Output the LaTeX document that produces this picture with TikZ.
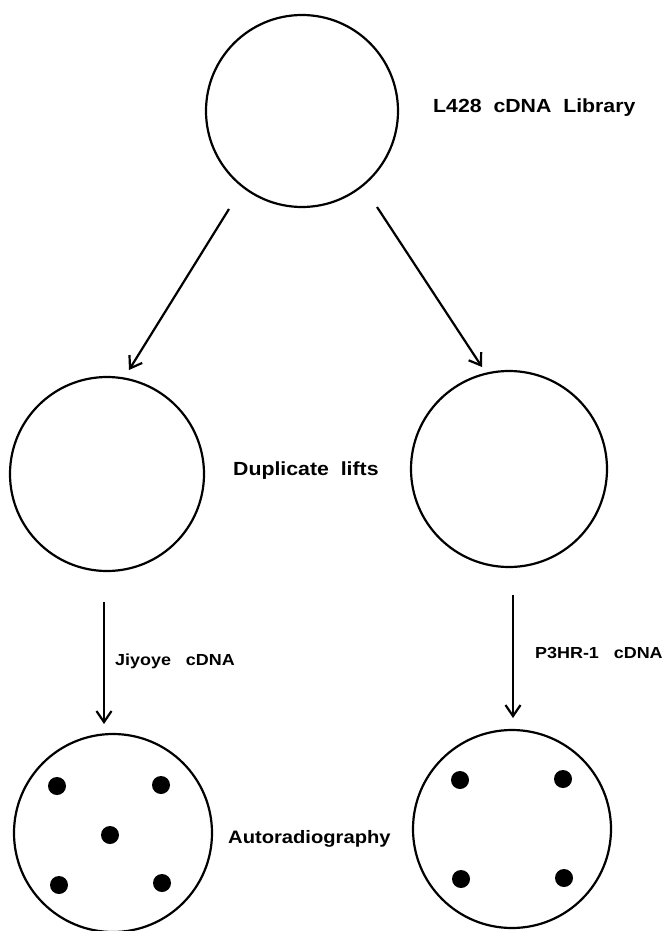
\documentclass[tikz,border=0pt]{standalone}
\usepackage{fontspec}
\setmainfont{Liberation Sans}
\newfontfamily\labfont[FakeStretch=1.12]{Liberation Sans}
\usetikzlibrary{arrows.meta}
\begin{document}
\begin{tikzpicture}[x=1pt,y=-1pt,
  dish/.style={circle, draw, line width=2.2pt, minimum size=#1, inner sep=0pt},
  spot/.style={circle, fill=black, minimum size=18pt, inner sep=0pt},
  flow/.style={line width=2.2pt, -{Straight Barb[length=11pt,width=15pt,line width=2.2pt]}},
  biglabel/.style={anchor=base west, inner sep=0pt, font=\labfont\bfseries\fontsize{19}{22}\selectfont},
  midlabel/.style={anchor=base west, inner sep=0pt, font=\labfont\bfseries\fontsize{18}{21}\selectfont},
  smalllabel/.style={anchor=base west, inner sep=0pt, font=\labfont\bfseries\fontsize{16}{19}\selectfont}]
\useasboundingbox (0,0) rectangle (664,931);
% circles
\node[dish=192pt] (top) at (302,111) {};
\node[dish=194pt] (ml) at (107,474) {};
\node[dish=196pt] (mr) at (509,469) {};
\node[dish=198pt] (bl) at (113,833) {};
\node[dish=198pt] (br) at (512,829) {};
% spots
\node[spot] (s1) at (57,786) {};
\node[spot] (s2) at (161,785) {};
\node[spot] (s3) at (110,835) {};
\node[spot] (s4) at (59,885) {};
\node[spot] (s5) at (162,883) {};
\node[spot] (t1) at (460,780) {};
\node[spot] (t2) at (563,779) {};
\node[spot] (t3) at (461,879) {};
\node[spot] (t4) at (564,878) {};
% arrow ends
\coordinate (a1s) at (229,209);
\coordinate (a1e) at (129,370);
\coordinate (a2s) at (377,207);
\coordinate (a2e) at (482,367);
\coordinate (a3s) at (104,602);
\coordinate (a3e) at (104,724);
\coordinate (a4s) at (513,595);
\coordinate (a4e) at (513,718);
\draw[flow] (a1s) -- (a1e);
\draw[flow] (a2s) -- (a2e);
\draw[flow] (a3s) -- (a3e);
\draw[flow] (a4s) -- (a4e);
% labels
\node[biglabel] (lib) at (433,113) {L428\ \ cDNA\ \ Library};
\node[biglabel] (dup) at (233,475) {Duplicate\ \ lifts};
\node[midlabel] (auto) at (228,843) {Autoradiography};
\node[smalllabel] (jiy) at (115,665) {Jiyoye\ \ \ cDNA};
\node[smalllabel] (p3) at (535,658) {P3HR-1\ \ \ cDNA};
\end{tikzpicture}
\end{document}
